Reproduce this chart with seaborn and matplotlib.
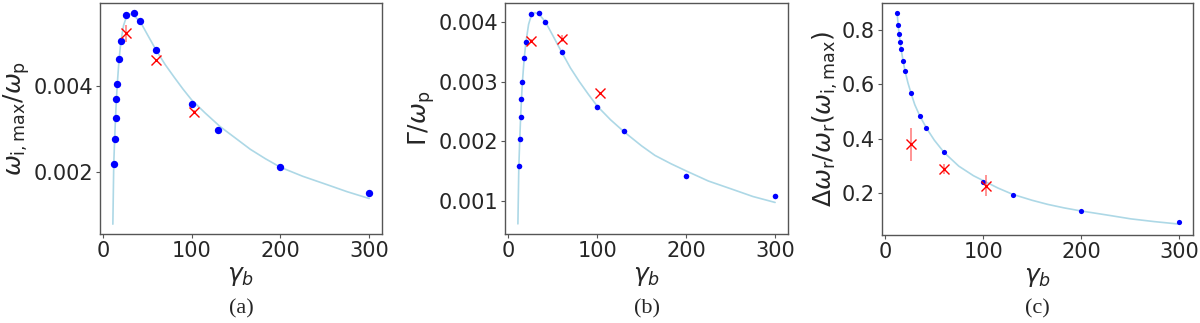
import numpy as np
import seaborn as sns
import matplotlib.pyplot as plt

# simulated points (same gamma_b for all panels)
gamma = [12, 13, 14, 15, 16, 18, 20, 26, 35, 42, 60, 100, 130, 200, 300]
wi_pts = [0.00217, 0.00275, 0.00326, 0.00369, 0.00405, 0.00464, 0.00505, 0.00565,
          0.00571, 0.00552, 0.00483, 0.00359, 0.00297, 0.00210, 0.00149]
gam_pts = [0.00158, 0.00203, 0.00240, 0.00271, 0.00300, 0.00340, 0.00367, 0.00413,
           0.00415, 0.00400, 0.00349, 0.00258, 0.00217, 0.00142, 0.00108]
dw_pts = [0.860, 0.818, 0.784, 0.755, 0.729, 0.686, 0.649, 0.569,
          0.485, 0.439, 0.350, 0.242, 0.195, 0.136, 0.094]

# fitted curves
wi_cx = [11, 12, 13, 14, 15, 16, 18, 20, 23, 26, 29, 31, 35, 42, 50, 60, 70, 80,
         90, 100, 115, 132, 150, 166, 183, 200, 225, 253, 275, 300]
wi_cy = [0.00077, 0.00217, 0.00275, 0.00326, 0.00369, 0.00405, 0.00462, 0.00503,
         0.00541, 0.00560, 0.00567, 0.00568, 0.00564, 0.00550, 0.00520, 0.00483,
         0.00450, 0.00421, 0.00393, 0.00367, 0.00337, 0.00305, 0.00277, 0.00252,
         0.00230, 0.00210, 0.00189, 0.00169, 0.00153, 0.00137]

gam_cx = [11, 12, 13, 14, 15, 16, 18, 20, 23, 26, 30, 35, 42, 50, 60, 70, 80,
          90, 100, 115, 130, 150, 165, 183, 200, 225, 254, 275, 300]
gam_cy = [0.00061, 0.00155, 0.00200, 0.00238, 0.00270, 0.00298, 0.00338, 0.00366,
          0.00396, 0.00411, 0.00416, 0.00413, 0.00400, 0.00378, 0.00350, 0.00323,
          0.00300, 0.00279, 0.00259, 0.00236, 0.00216, 0.00192, 0.00176, 0.00162,
          0.00150, 0.00133, 0.00118, 0.00107, 0.00097]

dw_cx = [11.5, 12, 13, 14, 15, 16, 18, 20, 23, 26, 30, 35, 42, 50, 60, 75, 90,
         100, 115, 130, 150, 166, 183, 200, 225, 251, 275, 300]
dw_cy = [0.865, 0.858, 0.818, 0.784, 0.755, 0.729, 0.686, 0.649, 0.605, 0.569,
         0.525, 0.485, 0.439, 0.395, 0.350, 0.300, 0.265, 0.247, 0.220, 0.197,
         0.175, 0.160, 0.147, 0.136, 0.122, 0.107, 0.097, 0.088]

# PIC results with error bars
pic_x = [26, 60, 103]
wi_pic = [0.00523, 0.00460, 0.00339]
wi_err = [0.00020, 0.00004, 0.00004]
gam_pic = [0.00368, 0.00372, 0.00280]
gam_err = [0.00003, 0.00006, 0.00002]
dw_pic = [0.380, 0.289, 0.229]
dw_err = [0.060, 0.017, 0.040]

sns.set_style("white")
plt.rcParams['font.family'] = ['DejaVu Sans']

fig = plt.figure(figsize=(12, 3.23), dpi=100)
axes = [fig.add_axes([100 / 1200, 89 / 323, 282 / 1200, 231 / 323]),
        fig.add_axes([505 / 1200, 89 / 323, 283 / 1200, 231 / 323]),
        fig.add_axes([882 / 1200, 88 / 323, 311 / 1200, 232 / 323])]

panels = [
    (wi_cx, wi_cy, wi_pts, wi_pic, wi_err, r'$\omega_\mathrm{i,max}/\omega_\mathrm{p}$',
     [0.002, 0.004], (0.00054, 0.00594), 28),
    (gam_cx, gam_cy, gam_pts, gam_pic, gam_err, r'$\Gamma/\omega_\mathrm{p}$',
     [0.001, 0.002, 0.003, 0.004], (0.00044, 0.00432), 16),
    (dw_cx, dw_cy, dw_pts, dw_pic, dw_err,
     r'$\Delta\omega_\mathrm{r}/\omega_\mathrm{r}(\omega_\mathrm{i,max})$',
     [0.2, 0.4, 0.6, 0.8], (0.048, 0.897), 14),
]

for ax, (cx, cy, pts, pic, err, ylab, yt, ylim, msize), cap in zip(axes, panels, ['(a)', '(b)', '(c)']):
    sns.lineplot(x=cx, y=cy, ax=ax, color='lightblue', linewidth=1.2, sort=False)
    sns.scatterplot(x=gamma, y=pts, ax=ax, color='blue', s=msize, linewidth=0, zorder=3)
    ax.errorbar(pic_x, pic, yerr=err, fmt='x', color='red', ms=7, mew=1.0,
                ecolor=(1, 0.3, 0.3, 0.7), elinewidth=1.2, zorder=4)
    ax.set_xlim(-3.5, 314.5)
    ax.set_ylim(*ylim)
    ax.set_xticks([0, 100, 200, 300])
    ax.set_yticks(yt)
    ax.set_yticklabels([f'{v:g}' if v >= 0.1 else f'{v:.3f}' for v in yt])
    ax.tick_params(labelsize=15, length=3, width=0.8, color='#555555', direction='out',
                   bottom=True, left=True, pad=2)
    for sp in ax.spines.values():
        sp.set_color('#555555')
        sp.set_linewidth(1.0)
    ax.set_xlabel(r'$\gamma_b$', fontsize=18, labelpad=2)
    ax.set_ylabel(ylab, fontsize=18, labelpad=1)
    pos = ax.get_position()
    fig.text(pos.x0 + pos.width / 2, 14 / 323, cap, ha='center', va='center',
             fontsize=16, family='Liberation Serif')

fig.savefig('out.png', dpi=100)
